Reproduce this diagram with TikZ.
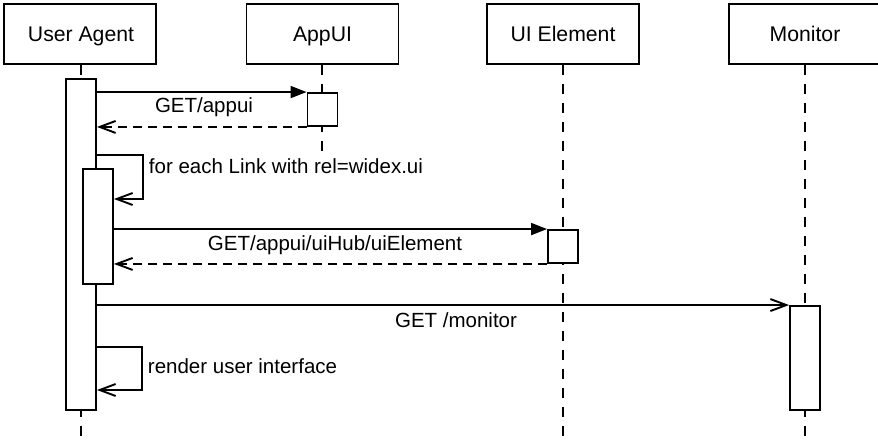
\documentclass[tikz,border=0pt]{standalone}
\usepackage{fontspec}
\setmainfont{Liberation Sans}
\usetikzlibrary{arrows.meta}

\begin{document}
\begin{tikzpicture}[x=1pt,y=-1pt,
  line width=1.9pt,
  every node/.style={font=\fontsize{20.5}{24}\selectfont},
  head/.style={draw, fill=white, minimum width=152pt, minimum height=60pt, inner sep=0pt},
  headtext/.style={anchor=base, inner sep=0pt, font=\fontsize{21.2}{25}\selectfont},
  act/.style={draw, fill=white, minimum width=30pt, inner sep=0pt},
  lifeline/.style={dash pattern=on 10pt off 9pt},
  call/.style={-{Triangle[length=16pt,width=12pt]}},
  async/.style={-{Straight Barb[length=16pt,width=12pt,line width=1.9pt]}},
  reply/.style={dash pattern=on 9pt off 6pt, -{Straight Barb[length=16pt,width=12pt,line width=1.9pt]}},
  msg/.style={anchor=base, inner sep=0pt}]
  \useasboundingbox (0,0) rectangle (878,441);
  \clip (0,0) rectangle (878,441);

  % participants
  \node[head] (ua)  at (80,34)  {};
  \node[head] (app) at (322.5,34) {};
  \node[head] (uie) at (563,34) {};
  \node[head] (mon) at (805,34) {};
  \node[headtext] (ualbl)  at (81,42)  {User Agent};
  \node[headtext] (applbl) at (322.5,42) {AppUI};
  \node[headtext] (uielbl) at (563,42) {UI Element};
  \node[headtext] (monlbl) at (805,42) {Monitor};

  % lifeline ends
  \coordinate (uaend)  at (81,441);
  \coordinate (append) at (322,157);
  \coordinate (uieend) at (563,441);
  \coordinate (monend) at (805,441);

  % lifelines
  \draw[lifeline] (ua.south -| uaend) -- (uaend);
  \draw[lifeline] (app.south -| append) -- (append);
  \draw[lifeline] (uie.south -| uieend) -- (uieend);
  \draw[lifeline] (mon.south -| monend) -- (monend);

  % activations
  \node[act, minimum height=331pt] (uaact)  at (81,244.5) {};
  \node[act, minimum height=115pt] (uainner) at (98,226.5) {};
  \node[act, minimum height=33pt]  (appact) at (322.5,109.5) {};
  \node[act, minimum height=33pt]  (uieact) at (563,246.5) {};
  \node[act, minimum height=104pt] (monact) at (805,358) {};

  % GET/appui
  \draw[call] (uaact.east |- appact.north west) -- (appact.north west);
  \node[msg] (m1) at (204,113) {GET/appui};
  \draw[reply] (appact.south west) -- (uaact.east |- appact.south west);

  % loop over links
  \coordinate (l1a) at (143,155);
  \coordinate (l1b) at (143,199);
  \draw[async] (uaact.east |- l1a) -- (l1a) -- (l1b) -- (uainner.east |- l1b);
  \node[msg, anchor=base west] (m2) at (148,173) {for each Link with rel=widex.ui};

  % GET/appui/uiHub/uiElement
  \draw[call] (uainner.east |- uieact.north west) -- (uieact.north west);
  \node[msg] (m3) at (335,250) {GET/appui/uiHub/uiElement};
  \draw[reply] (uieact.south west) -- (uainner.east |- uieact.south west);

  % GET /monitor
  \draw[async] (uaact.east |- monact.north west) -- (monact.north west);
  \node[msg] (m4) at (456,327) {GET /monitor};

  % render
  \coordinate (l2a) at (142,347);
  \coordinate (l2b) at (142,390);
  \draw[async] (uaact.east |- l2a) -- (l2a) -- (l2b) -- (uaact.east |- l2b);
  \node[msg, anchor=base west] (m5) at (147,373) {render user interface};
\end{tikzpicture}
\end{document}
